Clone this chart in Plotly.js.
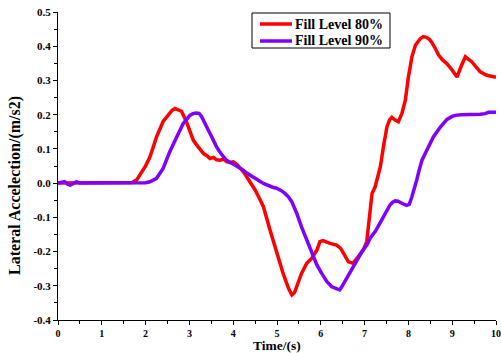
<!DOCTYPE html>
<html>
<head>
<meta charset="utf-8">
<script src="https://cdn.plot.ly/plotly-3.0.1.min.js"></script>
<style>html,body{margin:0;padding:0;background:#fff;}#chart{width:501px;height:353px;}</style>
</head>
<body>
<div id="chart"></div>
<script>
const seriesNames = ["Fill Level 80%", "Fill Level 90%"];
const seriesColors = ["#ff0000", "#7f00ff"];
const t80 = [0,0.5,1.0,1.5,1.69,1.8,1.87,2.0,2.1,2.25,2.4,2.51,2.6,2.67,2.75,2.82,2.93,3.01,3.09,3.2,3.32,3.4,3.47,3.55,3.62,3.7,3.78,3.85,3.93,4.0,4.08,4.15,4.25,4.34,4.42,4.5,4.6,4.69,4.84,4.99,5.14,5.26,5.34,5.4,5.45,5.56,5.68,5.79,5.91,5.98,6.05,6.1,6.21,6.36,6.45,6.52,6.63,6.74,6.86,6.97,7.05,7.09,7.13,7.17,7.24,7.3,7.36,7.43,7.51,7.57,7.62,7.7,7.77,7.85,7.93,8.0,8.08,8.16,8.27,8.34,8.41,8.48,8.54,8.62,8.69,8.78,8.88,9.0,9.11,9.2,9.3,9.45,9.55,9.64,9.79,9.9,10];
const a80 = [0,0,0,0,0.002,0.01,0.023,0.05,0.077,0.135,0.18,0.198,0.212,0.218,0.215,0.21,0.18,0.15,0.125,0.106,0.087,0.08,0.072,0.075,0.068,0.067,0.07,0.063,0.06,0.062,0.055,0.045,0.03,0.012,-0.002,-0.02,-0.045,-0.069,-0.137,-0.205,-0.264,-0.307,-0.327,-0.32,-0.303,-0.264,-0.234,-0.22,-0.196,-0.171,-0.168,-0.171,-0.176,-0.181,-0.19,-0.205,-0.23,-0.234,-0.215,-0.196,-0.17,-0.12,-0.06,-0.03,-0.011,0.015,0.048,0.106,0.164,0.185,0.192,0.184,0.179,0.203,0.242,0.31,0.369,0.403,0.422,0.428,0.426,0.42,0.41,0.392,0.374,0.36,0.349,0.33,0.31,0.34,0.369,0.354,0.34,0.325,0.315,0.311,0.309];
const t90 = [0,0.08,0.15,0.22,0.28,0.35,0.42,0.5,0.6,1.0,1.5,1.87,2.0,2.1,2.25,2.4,2.55,2.71,2.86,3.01,3.08,3.15,3.22,3.28,3.34,3.39,3.45,3.51,3.56,3.62,3.68,3.74,3.8,3.85,3.95,4.04,4.14,4.23,4.3,4.38,4.5,4.6,4.69,4.8,4.9,4.99,5.1,5.18,5.26,5.34,5.45,5.56,5.68,5.79,5.91,6.02,6.14,6.25,6.36,6.43,6.48,6.59,6.71,6.82,6.94,7.05,7.13,7.25,7.36,7.45,7.51,7.58,7.64,7.7,7.76,7.81,7.88,7.96,8.02,8.08,8.14,8.19,8.25,8.31,8.42,8.57,8.73,8.88,9.0,9.07,9.2,9.34,9.5,9.64,9.75,9.83,10];
const a90 = [0,0.003,0.004,-0.003,-0.006,-0.001,0.004,0,0,0,0,0,0.001,0.004,0.014,0.043,0.091,0.135,0.174,0.198,0.203,0.205,0.204,0.194,0.18,0.164,0.15,0.135,0.12,0.106,0.094,0.082,0.073,0.067,0.06,0.053,0.046,0.038,0.03,0.023,0.014,0.006,-0.001,-0.008,-0.012,-0.015,-0.022,-0.03,-0.04,-0.055,-0.088,-0.128,-0.166,-0.205,-0.239,-0.264,-0.288,-0.303,-0.31,-0.312,-0.303,-0.278,-0.249,-0.225,-0.2,-0.181,-0.16,-0.14,-0.115,-0.09,-0.078,-0.064,-0.056,-0.052,-0.053,-0.057,-0.061,-0.065,-0.062,-0.04,-0.015,0.009,0.04,0.067,0.096,0.135,0.164,0.186,0.195,0.198,0.2,0.2,0.2,0.201,0.203,0.207,0.207];
const xTickVals = [0,1,2,3,4,5,6,7,8,9,10];
const xTickText = ["0","1","2","3","4","5","6","7","8","9","10"];
const yTickVals = [-0.4,-0.3,-0.2,-0.1,0,0.1,0.2,0.3,0.4,0.5];
const yTickText = ["-0.4","-0.3","-0.2","-0.1","0.0","0.1","0.2","0.3","0.4","0.5"];
const xTitle = "Time/(s)";
const yTitle = "Lateral Accelection/(m/s2)";

const FONT = "Liberation Serif, Times New Roman, serif";
const traces = [
  {x: t80, y: a80, name: seriesNames[0], mode: "lines", line: {color: seriesColors[0], width: 3.5}},
  {x: t90, y: a90, name: seriesNames[1], mode: "lines", line: {color: seriesColors[1], width: 3.5}}
];
const axisCommon = {
  showline: true, linecolor: "#000", linewidth: 1, showgrid: false, zeroline: false,
  ticks: "outside", ticklen: 4, tickwidth: 1, tickcolor: "#000",
  tickfont: {family: FONT, size: 11, color: "#000", weight: "bold"},
  minor: {ticks: "outside", ticklen: 3, tickwidth: 1, tickcolor: "#000", showgrid: false}
};

// custom legend box (paper px -> paper fraction)
const PL = 58, PW = 438, PT = 12, PH = 308;
const px = v => (v - PL) / PW;
const py = v => (PT + PH - v) / PH;
const legendRows = [24, 41];
const shapes = [
  {type: "rect", xref: "paper", yref: "paper", x0: px(252), x1: px(390), y0: py(13), y1: py(48),
   line: {color: "#000", width: 1}, fillcolor: "#fff", layer: "above"}
];
const annotations = [
  {text: "<b>" + xTitle + "</b>", xref: "paper", yref: "paper", x: 0.5, y: py(354.5), xanchor: "center", yanchor: "bottom", showarrow: false,
    font: {family: FONT, size: 13.5, color: "#000"}, borderpad: 0},
  {text: "<b>" + yTitle + "</b>", xref: "paper", yref: "paper", x: px(15), y: py(186), xanchor: "center", yanchor: "middle", textangle: -90, showarrow: false,
    font: {family: FONT, size: 16, color: "#000"}}
];
seriesNames.forEach((nm, i) => {
  shapes.push({type: "line", xref: "paper", yref: "paper", x0: px(260), x1: px(292), y0: py(legendRows[i]), y1: py(legendRows[i]),
    line: {color: seriesColors[i], width: 3.5}, layer: "above"});
  annotations.push({text: "<b>" + nm + "</b>", xref: "paper", yref: "paper", x: px(293), y: py(legendRows[i]), xanchor: "left", yanchor: "middle",
    showarrow: false, font: {family: FONT, size: 14, color: "#000"}});
});

const layout = {
  width: 501, height: 353,
  margin: {l: PL, r: 5, t: PT, b: 353 - PT - PH},
  paper_bgcolor: "#fff", plot_bgcolor: "#fff",
  showlegend: false,
  xaxis: Object.assign({}, axisCommon, {range: [0, 10], tickmode: "array", tickvals: xTickVals, ticktext: xTickText, ticklabeloverflow: "allow",
    tickfont: {family: FONT, size: 10, color: "#000", weight: "bold"},
    minor: Object.assign({}, axisCommon.minor, {tickmode: "linear", tick0: 0, dtick: 0.5})}),
  yaxis: Object.assign({}, axisCommon, {range: [-0.4, 0.5], tickmode: "array", tickvals: yTickVals, ticktext: yTickText, ticklabeloverflow: "allow",
    minor: Object.assign({}, axisCommon.minor, {tickmode: "linear", tick0: 0, dtick: 0.05})}),
  shapes: shapes,
  annotations: annotations
};
Plotly.newPlot("chart", traces, layout, {displayModeBar: false, staticPlot: true});
</script>
</body>
</html>
